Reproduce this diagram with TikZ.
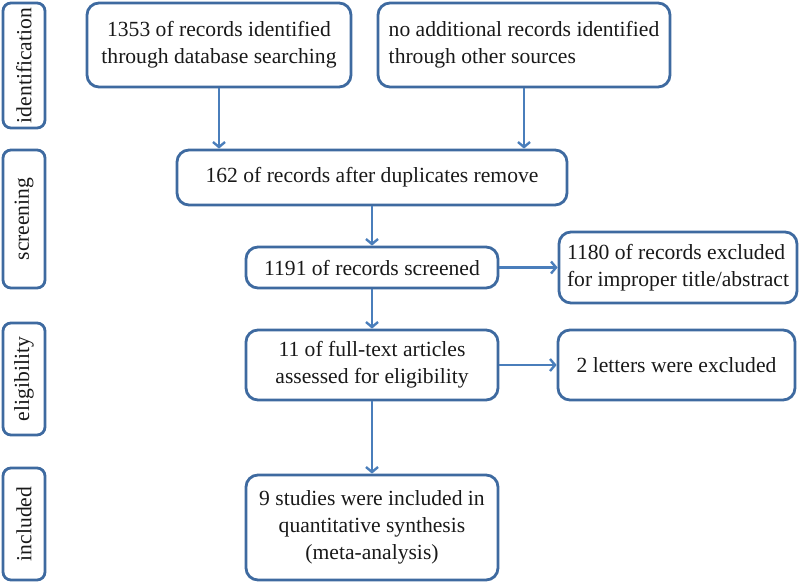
\documentclass[tikz,border=0pt]{standalone}
\usepackage{fontspec}
\setmainfont{Liberation Serif}
\usetikzlibrary{arrows.meta}
\definecolor{bord}{HTML}{3E6AA0}
\definecolor{arr}{HTML}{4A7EBB}
\begin{document}
\begin{tikzpicture}[x=1pt,y=-1pt,
  every node/.style={font=\fontsize{21.6}{27}\selectfont, text=black!90},
  box/.style={draw=bord, line width=2.8pt, rounded corners=12pt, inner sep=0pt, align=center},
  stage/.style={draw=bord, line width=2.8pt, rounded corners=8pt, inner sep=0pt, minimum width=42pt},
  arrow/.style={draw=arr, line width=2.4pt, -{Straight Barb[length=5pt,width=12pt]}}]
\useasboundingbox (0,0) rectangle (800,584);
% stage labels
\node[stage, minimum height=125pt] (s1) at (24,65.5) {};
\node[rotate=90] at (s1) {identification};
\node[stage, minimum height=138pt] (s2) at (24,219) {};
\node[rotate=90] at (s2) {screening};
\node[stage, minimum height=112pt] (s3) at (24,379) {};
\node[rotate=90] at (s3) {eligibility};
\node[stage, minimum height=112pt] (s4) at (24,524) {};
\node[rotate=90] at (s4) {included};
% boxes
\node[box, minimum width=264pt, minimum height=84pt] (A) at (219,45) {1353 of records identified\\through database searching};
\node[box, minimum width=292pt, minimum height=84pt, align=left] (B) at (524,45) {no additional records identified\\through other sources};
\node[box, minimum width=390pt, minimum height=55pt] (C) at (372,177.5) {162 of records after duplicates remove};
\node[box, minimum width=252pt, minimum height=41pt] (D) at (372,267.5) {1191 of records screened};
\node[box, minimum width=238pt, minimum height=71pt, align=left] (E) at (678,267.5) {1180 of records excluded\\for improper title/abstract};
\node[box, minimum width=252pt, minimum height=70pt] (F) at (372,365) {11 of full-text articles\\assessed for eligibility};
\node[box, minimum width=237pt, minimum height=70pt] (G) at (676.5,365) {2 letters were excluded};
\node[box, minimum width=252pt, minimum height=105pt] (H) at (372,527.5) {9 studies were included in\\quantitative synthesis\\(meta-analysis)};
% arrows
\draw[arrow] (A.south) -- (A.south |- C.north);
\draw[arrow] (B.south) -- (B.south |- C.north);
\draw[arrow] (C.south) -- (D.north);
\draw[arrow] (D.east) -- (E.west);
\draw[arrow] (D.south) -- (F.north);
\draw[arrow] (F.east) -- (G.west);
\draw[arrow] (F.south) -- (H.north);
\end{tikzpicture}
\end{document}
